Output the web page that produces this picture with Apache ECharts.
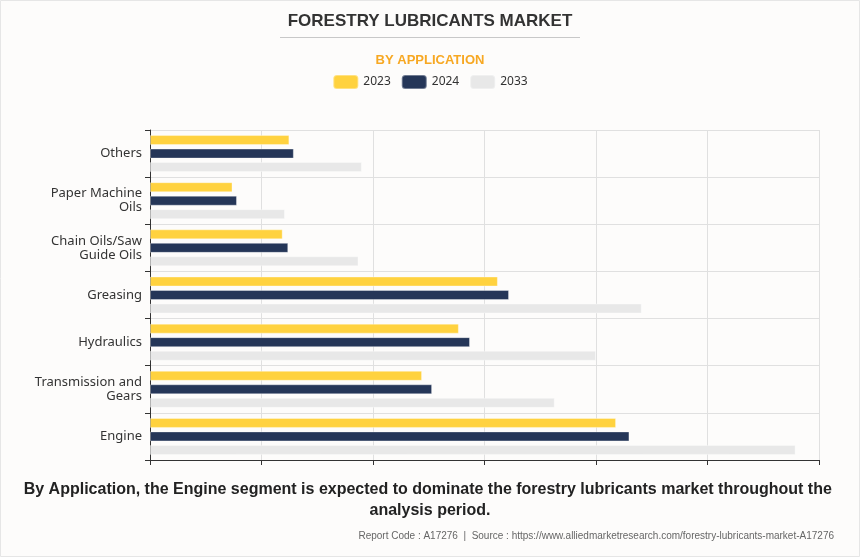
<!DOCTYPE html>
<html>
<head>
<meta charset="utf-8">
<script src="https://cdn.jsdelivr.net/npm/echarts@6/dist/echarts.min.js"></script>
<style>
html,body{margin:0;padding:0;background:#fdfcfb;}
#c{width:860px;height:557px;background:#fdfcfb;}
</style>
</head>
<body>
<div id="c"></div>
<script>
const categories = ["Engine", "Transmission and\nGears", "Hydraulics", "Greasing", "Chain Oils/Saw\nGuide Oils", "Paper Machine\nOils", "Others"];
const years = ["2023", "2024", "2033"];
const values2023 = [4.18, 2.44, 2.77, 3.12, 1.19, 0.74, 1.25];
const values2024 = [4.30, 2.53, 2.87, 3.22, 1.24, 0.78, 1.29];
const values2033 = [5.79, 3.63, 4.00, 4.41, 1.87, 1.21, 1.90];
const colors = ["#ffd23f", "#253658", "#e8e8e8"];

const chart = echarts.init(document.getElementById('c'));
const seriesData = [values2023, values2024, values2033];
chart.setOption({
  backgroundColor: '#fdfcfb',
  animation: false,
  title: [
    {text: 'FORESTRY LUBRICANTS MARKET', left: 'center', top: 8,
     textStyle: {fontFamily: 'Liberation Sans', fontWeight: 'bold', fontSize: 17, color: '#333333'}},
    {text: 'BY APPLICATION', left: 'center', top: 49,
     textStyle: {fontFamily: 'Liberation Sans', fontWeight: 'bold', fontSize: 13, color: '#f7a823'}},
    {text: 'Report Code : A17276  |  Source : https://www.alliedmarketresearch.com/forestry-lubricants-market-A17276',
     right: 21, top: 526,
     textStyle: {fontFamily: 'Liberation Sans', fontWeight: 'normal', fontSize: 10, color: '#666666'}}
  ],
  graphic: [
    {type: 'rect', shape: {x: 0.5, y: 0.5, width: 859, height: 556}, style: {fill: 'none', stroke: '#e6e6e6', lineWidth: 1}, silent: true},
    {type: 'line', shape: {x1: 280, y1: 37.5, x2: 580, y2: 37.5}, style: {stroke: '#c8c8c8', lineWidth: 1}},
    {type: 'text', x: 430, y: 479,
     style: {text: 'By Application, the Engine segment is expected to dominate the forestry lubricants market throughout the analysis period.',
       align: 'center', verticalAlign: 'top', width: 820, overflow: 'break', lineHeight: 21,
       font: 'bold 16px "Liberation Sans"', fill: '#222222'}}
  ],
  legend: {
    top: 69, left: 'center', itemWidth: 25, itemHeight: 14, itemGap: 10,
    icon: 'roundRect',
    textStyle: {fontFamily: 'Noto Sans', fontSize: 12, color: '#333333'},
    data: years
  },
  grid: {left: 150, right: 41, top: 130, bottom: 97, containLabel: false},
  xAxis: {
    type: 'value', min: 0, max: 6, interval: 1,
    axisLabel: {show: false},
    axisLine: {show: true, lineStyle: {color: '#333', width: 1}},
    axisTick: {show: true, length: 5, lineStyle: {color: '#333'}},
    splitLine: {show: true, lineStyle: {color: '#e0e0e0', width: 1}}
  },
  yAxis: {
    type: 'category', data: categories,
    axisLine: {show: true, lineStyle: {color: '#333', width: 1}},
    axisTick: {show: true, length: 5, lineStyle: {color: '#333'}},
    splitLine: {show: true, lineStyle: {color: '#e0e0e0', width: 1}},
    axisLabel: {fontFamily: 'Noto Sans', fontSize: 13, color: '#333333', lineHeight: 14, margin: 8}
  },
  series: years.map((y, i) => ({
    name: y, type: 'bar', data: seriesData[i], barWidth: 10, barGap: '35%',
    itemStyle: {color: colors[i], borderColor: 'rgba(255,255,255,0.35)', borderWidth: 1}
  }))
});
</script>
</body>
</html>
